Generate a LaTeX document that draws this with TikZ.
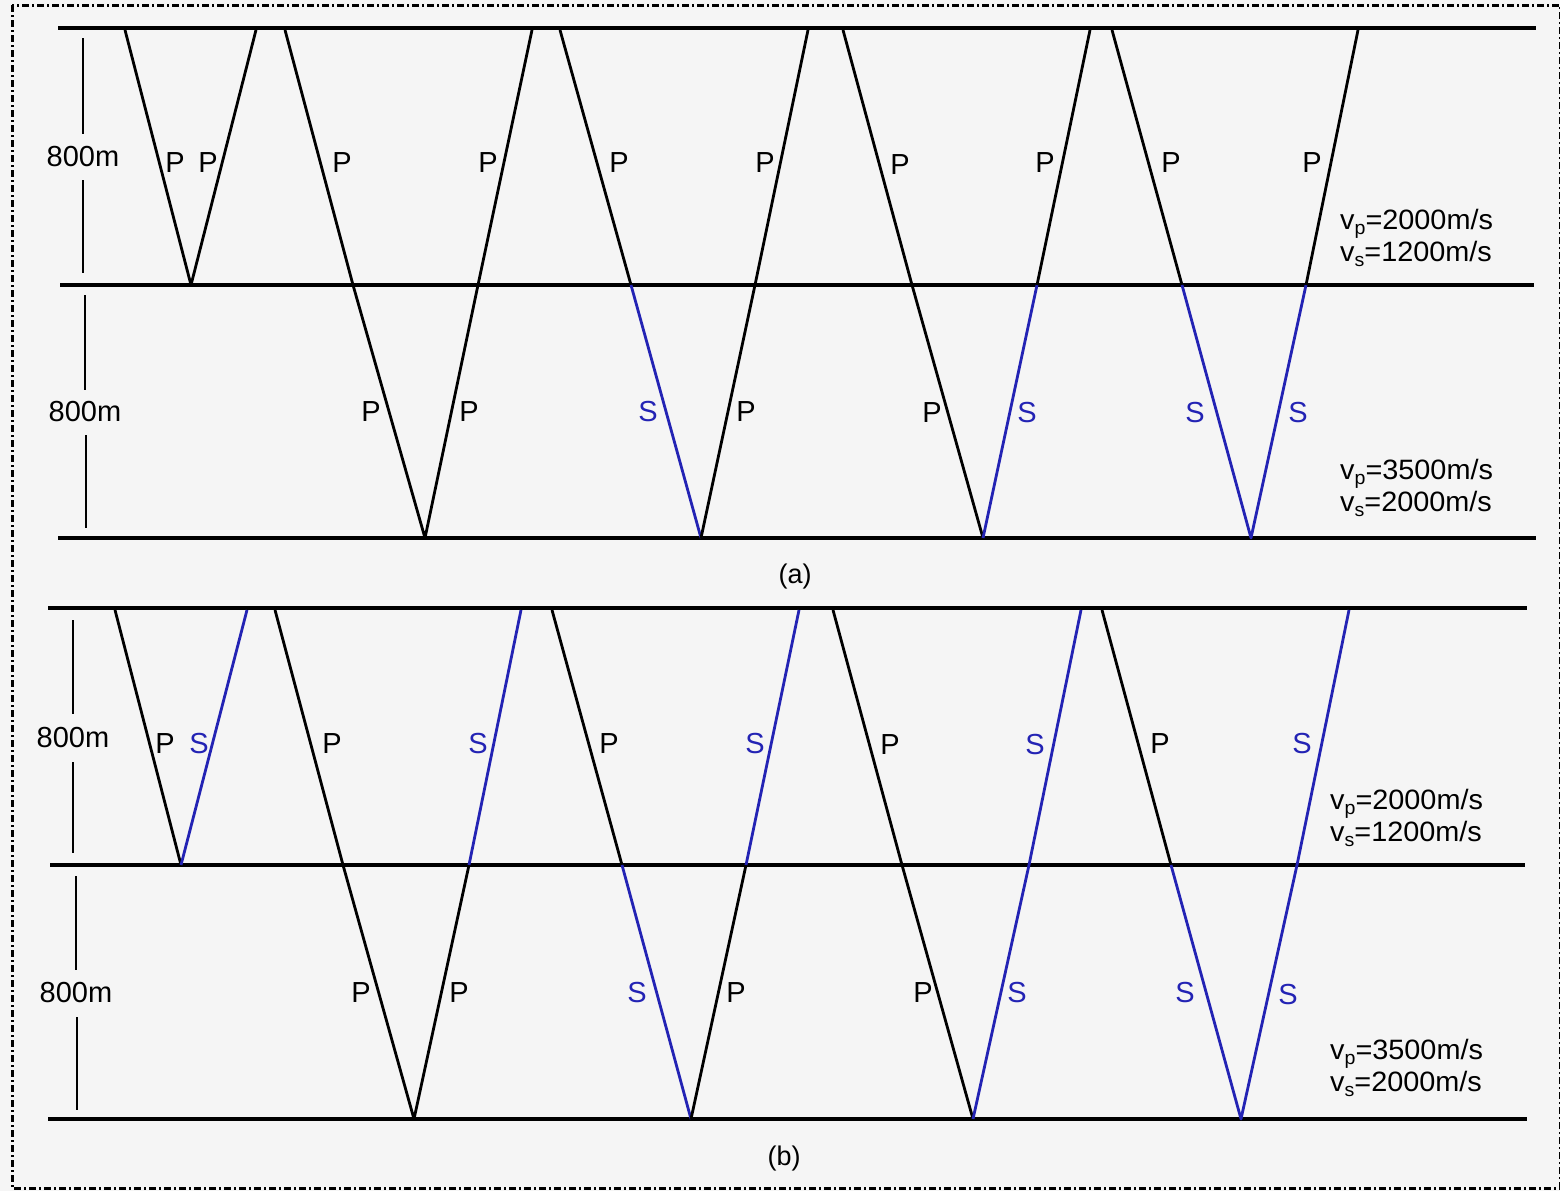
\documentclass[tikz,border=0pt]{standalone}
\usepackage{fontspec}
\usepackage{graphicx}
\setmainfont{Liberation Sans}
\definecolor{bg}{RGB}{245,245,245}
\definecolor{sblue}{RGB}{35,35,180}
\begin{document}
\begin{tikzpicture}[x=1pt,y=-1pt,
  layer/.style={line width=3.6pt,black},
  bar/.style={line width=2.8pt,black},
  pray/.style={line width=2.8pt,black,line join=round},
  sray/.style={line width=2.8pt,sblue,line join=round},
  lbl/.style={font=\fontsize{29}{31}\selectfont,inner sep=0pt},
  slbl/.style={lbl,text=sblue},
  vel/.style={font=\fontsize{28}{30}\selectfont,inner sep=0pt,anchor=west},
  captext/.style={font=\fontsize{27}{30}\selectfont,inner sep=0pt}]
\fill[bg] (0,0) rectangle (1560,1191);
\useasboundingbox (0,0) rectangle (1560,1191);
\draw[line width=3pt,dash pattern=on 7pt off 3pt on 2pt off 3pt] (12,5) rectangle (1560,1188);
\newcommand{\vp}{v\raisebox{-0.3ex}{\fontsize{19}{19}\selectfont p}}
\newcommand{\vs}{v\raisebox{-0.3ex}{\fontsize{19}{19}\selectfont s}}
\newcommand{\wide}[1]{\scalebox{1.03}[1]{#1}}
% ================= panel (a)
\coordinate (a1l) at (58,28);  \coordinate (a1r) at (1536,28);
\coordinate (a2l) at (60,285); \coordinate (a2r) at (1534,285);
\coordinate (a3l) at (58,538); \coordinate (a3r) at (1536,538);
\draw[layer] (a1l) -- (a1r);
\draw[layer] (a2l) -- (a2r);
\draw[layer] (a3l) -- (a3r);
% scale bars
\node[lbl] (ma1) at (83,157) {800m};
\coordinate (ba1t) at (83,38); \coordinate (ba1m) at (83,134);
\coordinate (ba1n) at (83,180); \coordinate (ba1b) at (83,273);
\draw[bar] (ba1t) -- (ba1m);
\draw[bar] (ba1n) -- (ba1b);
\node[lbl] (ma2) at (85,412) {800m};
\coordinate (ba2t) at (85,295); \coordinate (ba2m) at (85,390);
\coordinate (ba2n) at (86,435); \coordinate (ba2b) at (86,528);
\draw[bar] (ba2t) -- (ba2m);
\draw[bar] (ba2n) -- (ba2b);
% ray 1
\coordinate (r1a) at (125,30); \coordinate (r1b) at (191,285); \coordinate (r1c) at (256,30);
\draw[pray] (r1a) -- (r1b) -- (r1c);
\node[lbl] at (175,163) {P}; \node[lbl] at (208,163) {P};
% ray 2
\coordinate (r2a) at (285,30); \coordinate (r2b) at (353,285); \coordinate (r2c) at (425,538);
\coordinate (r2d) at (478,285); \coordinate (r2e) at (532,30);
\draw[pray] (r2a) -- (r2b) -- (r2c) -- (r2d) -- (r2e);
\node[lbl] at (342,163) {P}; \node[lbl] at (488,163) {P};
\node[lbl] at (371,412) {P}; \node[lbl] at (469,412) {P};
% ray 3
\coordinate (r3a) at (560,30); \coordinate (r3b) at (631,285); \coordinate (r3c) at (701,538);
\coordinate (r3d) at (755,285); \coordinate (r3e) at (808,30);
\draw[pray] (r3a) -- (r3b);
\draw[sray] (r3b) -- (r3c);
\draw[pray] (r3c) -- (r3d) -- (r3e);
\node[lbl] at (619,163) {P}; \node[lbl] at (765,163) {P};
\node[slbl] at (648,412) {S}; \node[lbl] at (746,412) {P};
% ray 4
\coordinate (r4a) at (843,30); \coordinate (r4b) at (912,285); \coordinate (r4c) at (983,538);
\coordinate (r4d) at (1037,285); \coordinate (r4e) at (1090,30);
\draw[pray] (r4a) -- (r4b) -- (r4c);
\draw[sray] (r4c) -- (r4d);
\draw[pray] (r4d) -- (r4e);
\node[lbl] at (900,165) {P}; \node[lbl] at (1045,163) {P};
\node[lbl] at (932,413) {P}; \node[slbl] at (1027,413) {S};
% ray 5
\coordinate (r5a) at (1112,30); \coordinate (r5b) at (1182,285); \coordinate (r5c) at (1251,538);
\coordinate (r5d) at (1306,285); \coordinate (r5e) at (1358,30);
\draw[pray] (r5a) -- (r5b);
\draw[sray] (r5b) -- (r5c) -- (r5d);
\draw[pray] (r5d) -- (r5e);
\node[lbl] at (1171,163) {P}; \node[lbl] at (1312,163) {P};
\node[slbl] at (1195,413) {S}; \node[slbl] at (1298,413) {S};
% velocities
\node[vel] at (1340,224) {\wide{\vp=2000m/s}};
\node[vel] at (1340,254) {\wide{\vs=1200m/s}};
\node[vel] at (1340,474) {\wide{\vp=3500m/s}};
\node[vel] at (1340,504) {\wide{\vs=2000m/s}};
\node[captext] at (795,577) {(a)};
% ================= panel (b)
\coordinate (b1l) at (48,608);  \coordinate (b1r) at (1527,608);
\coordinate (b2l) at (50,865);  \coordinate (b2r) at (1525,865);
\coordinate (b3l) at (48,1119); \coordinate (b3r) at (1527,1119);
\draw[layer] (b1l) -- (b1r);
\draw[layer] (b2l) -- (b2r);
\draw[layer] (b3l) -- (b3r);
\node[lbl] (mb1) at (73,738) {800m};
\coordinate (bb1t) at (73,620); \coordinate (bb1m) at (73,714);
\coordinate (bb1n) at (73,762); \coordinate (bb1b) at (73,853);
\draw[bar] (bb1t) -- (bb1m);
\draw[bar] (bb1n) -- (bb1b);
\node[lbl] (mb2) at (76,993) {800m};
\coordinate (bb2t) at (76,876); \coordinate (bb2m) at (76,970);
\coordinate (bb2n) at (77,1017); \coordinate (bb2b) at (77,1110);
\draw[bar] (bb2t) -- (bb2m);
\draw[bar] (bb2n) -- (bb2b);
% ray 1
\coordinate (q1a) at (115,610); \coordinate (q1b) at (181,865); \coordinate (q1c) at (247,610);
\draw[pray] (q1a) -- (q1b);
\draw[sray] (q1b) -- (q1c);
\node[lbl] at (165,744) {P}; \node[slbl] at (199,744) {S};
% ray 2
\coordinate (q2a) at (275,610); \coordinate (q2b) at (343,865); \coordinate (q2c) at (414,1119);
\coordinate (q2d) at (469,865); \coordinate (q2e) at (521,610);
\draw[pray] (q2a) -- (q2b) -- (q2c) -- (q2d);
\draw[sray] (q2d) -- (q2e);
\node[lbl] at (332,744) {P}; \node[slbl] at (478,744) {S};
\node[lbl] at (361,993) {P}; \node[lbl] at (459,993) {P};
% ray 3
\coordinate (q3a) at (552,610); \coordinate (q3b) at (622,865); \coordinate (q3c) at (691,1119);
\coordinate (q3d) at (746,865); \coordinate (q3e) at (799,610);
\draw[pray] (q3a) -- (q3b);
\draw[sray] (q3b) -- (q3c);
\draw[pray] (q3c) -- (q3d);
\draw[sray] (q3d) -- (q3e);
\node[lbl] at (609,744) {P}; \node[slbl] at (755,744) {S};
\node[slbl] at (637,993) {S}; \node[lbl] at (736,993) {P};
% ray 4
\coordinate (q4a) at (833,610); \coordinate (q4b) at (902,865); \coordinate (q4c) at (973,1119);
\coordinate (q4d) at (1029,865); \coordinate (q4e) at (1081,610);
\draw[pray] (q4a) -- (q4b) -- (q4c);
\draw[sray] (q4c) -- (q4d) -- (q4e);
\node[lbl] at (890,745) {P}; \node[slbl] at (1035,745) {S};
\node[lbl] at (923,993) {P}; \node[slbl] at (1017,993) {S};
% ray 5
\coordinate (q5a) at (1102,610); \coordinate (q5b) at (1171,865); \coordinate (q5c) at (1241,1119);
\coordinate (q5d) at (1297,865); \coordinate (q5e) at (1349,610);
\draw[pray] (q5a) -- (q5b);
\draw[sray] (q5b) -- (q5c) -- (q5d) -- (q5e);
\node[lbl] at (1160,744) {P}; \node[slbl] at (1302,744) {S};
\node[slbl] at (1185,993) {S}; \node[slbl] at (1288,995) {S};
% velocities
\node[vel] at (1330,804) {\wide{\vp=2000m/s}};
\node[vel] at (1330,834) {\wide{\vs=1200m/s}};
\node[vel] at (1330,1054) {\wide{\vp=3500m/s}};
\node[vel] at (1330,1084) {\wide{\vs=2000m/s}};
\node[captext] at (784,1158) {(b)};
\end{tikzpicture}
\end{document}
